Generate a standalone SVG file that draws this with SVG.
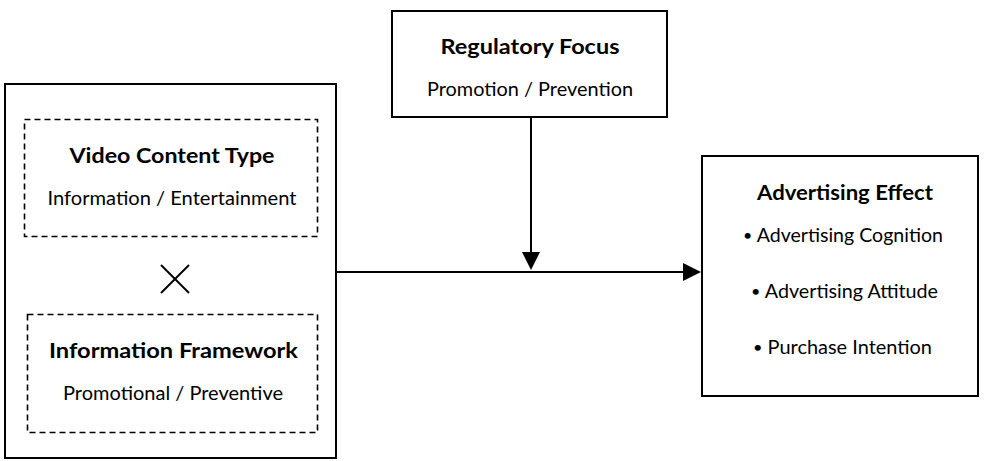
<svg xmlns="http://www.w3.org/2000/svg" width="998" height="461" viewBox="0 0 998 461">
<defs>
<style>
.box{fill:#fff;stroke:#000;stroke-width:2}
.dash{fill:none;stroke:#000;stroke-width:1.6;stroke-dasharray:6,4}
.t{font-family:Lato,"Noto Sans",sans-serif;font-size:20.5px;font-weight:bold;text-anchor:middle;fill:#000}
.s{font-family:Lato,"Noto Sans",sans-serif;font-size:19.5px;text-anchor:middle;fill:#000}
.b{font-size:16px}
.ln{stroke:#000;stroke-width:2;fill:none}
</style>
</defs>
<rect width="998" height="461" fill="#fff"/>
<g id="connectors">
<line class="ln" x1="337" y1="272" x2="683" y2="272"/>
<path d="M683,263 L701,272 L683,281 z" fill="#000"/>
<line class="ln" x1="531" y1="117" x2="531" y2="253"/>
<path d="M522,252 L540,252 L531,270 z" fill="#000"/>
</g>
<g id="input">
<rect class="box" x="5" y="84" width="331" height="374"/>
<g id="video-content-type">
<rect class="dash" x="24.5" y="119.5" width="293" height="117"/>
<text class="t" x="172" y="163" textLength="205" lengthAdjust="spacingAndGlyphs">Video Content Type</text>
<text class="s" x="172" y="205" textLength="249" lengthAdjust="spacingAndGlyphs">Information / Entertainment</text>
</g>
<g id="times">
<line class="ln" x1="161" y1="265" x2="189" y2="293" stroke-width="1.6"/>
<line class="ln" x1="189" y1="265" x2="161" y2="293" stroke-width="1.6"/>
</g>
<g id="information-framework">
<rect class="dash" x="27.5" y="314.5" width="290" height="118"/>
<text class="t" x="173.5" y="358" textLength="249" lengthAdjust="spacingAndGlyphs">Information Framework</text>
<text class="s" x="173" y="400" textLength="220" lengthAdjust="spacingAndGlyphs">Promotional / Preventive</text>
</g>
</g>
<g id="regulatory-focus">
<rect class="box" x="392" y="11" width="275" height="106"/>
<text class="t" x="530" y="54" textLength="179" lengthAdjust="spacingAndGlyphs">Regulatory Focus</text>
<text class="s" x="530" y="96" textLength="206" lengthAdjust="spacingAndGlyphs">Promotion / Prevention</text>
</g>
<g id="advertising-effect">
<rect class="box" x="702" y="156" width="276" height="240"/>
<text class="t" x="845" y="200" textLength="176" lengthAdjust="spacingAndGlyphs">Advertising Effect</text>
<text class="s" x="843" y="242" textLength="200" lengthAdjust="spacingAndGlyphs"><tspan class="b" dy="-1">•</tspan><tspan dy="1"> Advertising Cognition</tspan></text>
<text class="s" x="844.5" y="298" textLength="187" lengthAdjust="spacingAndGlyphs"><tspan class="b" dy="-1">•</tspan><tspan dy="1"> Advertising Attitude</tspan></text>
<text class="s" x="842.5" y="354" textLength="179" lengthAdjust="spacingAndGlyphs"><tspan class="b" dy="-1">•</tspan><tspan dy="1"> Purchase Intention</tspan></text>
</g>
</svg>
